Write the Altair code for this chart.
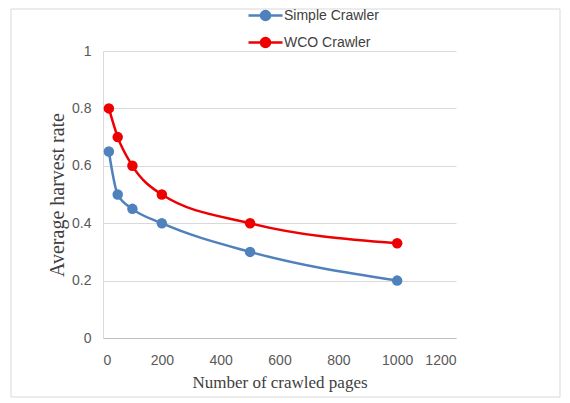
import altair as alt
import pandas as pd

pages = [20, 50, 100, 200, 500, 1000]
simple_rate = [0.65, 0.50, 0.45, 0.40, 0.30, 0.20]
wco_rate = [0.80, 0.70, 0.60, 0.50, 0.40, 0.33]
series_names = ["Simple Crawler", "WCO Crawler"]
series_colors = ["#4f81bd", "#ee0000"]
x_ticks = [0, 200, 400, 600, 800, 1000, 1200]
y_ticks = [0, 0.2, 0.4, 0.6, 0.8, 1]

rows = []
for p, v in zip(pages, simple_rate):
    rows.append({"pages": p, "rate": v, "series": series_names[0]})
for p, v in zip(pages, wco_rate):
    rows.append({"pages": p, "rate": v, "series": series_names[1]})
df = pd.DataFrame(rows)

legend_symbol = "M-1.7,0L1.7,0M-0.45,0A0.45,0.45,0,1,1,0.45,0A0.45,0.45,0,1,1,-0.45,0Z"

x_enc = alt.X("pages:Q", scale=alt.Scale(domain=[0, 1200], nice=False),
              axis=alt.Axis(values=x_ticks, title="Number of crawled pages", format="d",
                            grid=False, ticks=False, domain=True, domainColor="#bfbfbf",
                            labelPadding=15, titlePadding=7, titleFontSize=17))
y_enc = alt.Y("rate:Q", scale=alt.Scale(domain=[0, 1], nice=False),
              axis=alt.Axis(values=y_ticks, title="Average harvest rate",
                            grid=True, gridColor="#d9d9d9", ticks=False, domain=True,
                            domainColor="#d9d9d9", labelPadding=12, titlePadding=4,
                            titleFontSize=20,
                            labelExpr="datum.value == 0 ? '0' : datum.value == 1 ? '1' : format(datum.value, '.1f')"))
scale = alt.Scale(domain=series_names, range=series_colors)
legend = alt.Legend(title=None, orient="none", legendX=151, legendY=-47,
                    direction="vertical", symbolType=legend_symbol,
                    symbolSize=400, symbolStrokeWidth=2.5, rowPadding=6,
                    labelFontSize=14, labelFont="Liberation Sans",
                    labelColor="#404040", labelOffset=7)

base = alt.Chart(df)
lines = base.mark_line(interpolate="monotone", strokeWidth=2.5).encode(
    x=x_enc, y=y_enc, color=alt.Color("series:N", scale=scale, legend=legend))
points = base.mark_circle(size=110, opacity=1).encode(
    x="pages:Q", y="rate:Q",
    color=alt.Color("series:N", scale=scale, legend=None))

frame = alt.Chart(pd.DataFrame({"k": [0]})).mark_rect(
    fill=None, stroke="#d9d9d9", strokeWidth=1).encode(
    x=alt.value(-92), x2=alt.value(457), y=alt.value(-42), y2=alt.value(346))

chart = alt.layer(frame, lines, points).properties(
    width=353, height=287,
    autosize=alt.AutoSizeParams(type="none"),
    padding={"left": 95, "top": 43, "right": 106, "bottom": 65},
).configure_view(stroke=None).configure_axis(
    labelFont="Liberation Sans", labelFontSize=14, labelColor="#595959",
    titleFont="Liberation Serif", titleColor="#404040",
    titleFontWeight="normal")

chart.save("out.html", embed_options={"renderer": "svg", "actions": False})
